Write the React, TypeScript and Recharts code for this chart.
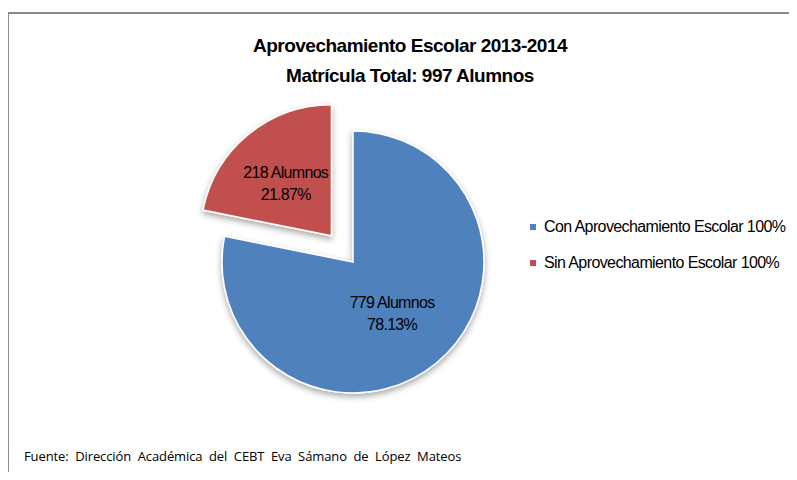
import { PieChart, Pie, Cell, Legend } from 'recharts';

const categories = ['Sin Aprovechamiento Escolar 100%', 'Con Aprovechamiento Escolar 100%'];
const alumnos = [218, 779];
const colors = ['#C0504D', '#4F81BD'];
const legendOrder = [1, 0];

const titleLines = ['Aprovechamiento Escolar 2013-2014', 'Matrícula Total: 997 Alumnos'];
const sourceNote = 'Fuente:  Dirección  Académica  del  CEBT  Eva  Sámano  de  López  Mateos';

const data = categories.map((name, i) => ({ name, value: alumnos[i] }));
const total = alumnos.reduce((a, b) => a + b, 0);

const CX = 353;
const CY = 262;
const R = 131;
const EXPLODE = 34;

// the red slice is pulled out along its own middle angle
const redMid = 90 + (360 * alumnos[0]) / total / 2;
const offX = EXPLODE * Math.cos((redMid * Math.PI) / 180);
const offY = -EXPLODE * Math.sin((redMid * Math.PI) / 180);

const chartFont = '"Liberation Sans", Arial, sans-serif';

function makeLabel(only: number, frac: number) {
    return (props: any) => {
        const { cx, cy, midAngle, outerRadius, index, value } = props;
        if (index !== only) return null;
        const rad = (midAngle * Math.PI) / 180;
        const x = cx + outerRadius * frac * Math.cos(rad);
        const y = cy - outerRadius * frac * Math.sin(rad);
        const pct = ((value / total) * 100).toFixed(2);
        return (
            <text
                x={x}
                y={y}
                textAnchor="middle"
                fill="#000"
                fontFamily={chartFont}
                fontSize={16}
                letterSpacing={-0.7}
            >
                <tspan x={x} dy={-2}>{`${value} Alumnos`}</tspan>
                <tspan x={x} dy={22}>{`${pct}%`}</tspan>
            </text>
        );
    };
}

function LegendBox() {
    return (
        <div style={{ fontFamily: chartFont, fontSize: 16, letterSpacing: -0.6, color: '#000' }}>
            {legendOrder.map((i) => (
                <div key={i} style={{ display: 'flex', alignItems: 'center', height: 36 }}>
                    <span style={{ width: 6, height: 6, background: colors[i], marginRight: 8, display: 'inline-block' }} />
                    <span>{categories[i]}</span>
                </div>
            ))}
        </div>
    );
}

export default function App() {
    return (
        <div style={{ position: 'relative', width: 797, height: 480, margin: -8, overflow: 'hidden', background: '#fff' }}>
            <svg width={0} height={0} style={{ position: 'absolute' }}>
                <defs>
                    <filter id="sliceShadow" x="-20%" y="-20%" width="140%" height="140%">
                        <feDropShadow dx={0} dy={3} stdDeviation={3} floodColor="#000" floodOpacity={0.35} />
                    </filter>
                </defs>
            </svg>
            <div
                style={{
                    position: 'absolute',
                    left: 7,
                    top: 12,
                    width: 820,
                    height: 500,
                    border: '2px solid #8a8a8a',
                    boxSizing: 'border-box',
                }}
            />
            <div
                style={{
                    position: 'absolute',
                    left: 210,
                    width: 400,
                    top: 31,
                    textAlign: 'center',
                    fontFamily: chartFont,
                    fontWeight: 'bold',
                    fontSize: 19,
                    letterSpacing: -0.5,
                    lineHeight: '30px',
                    color: '#000',
                }}
            >
                {titleLines.map((t) => (
                    <div key={t}>{t}</div>
                ))}
            </div>
            <div style={{ position: 'absolute', left: 0, top: 0 }}>
                <PieChart width={797} height={480} margin={{ top: 0, right: 0, bottom: 0, left: 0 }}>
                    <Pie
                        data={data}
                        dataKey="value"
                        nameKey="name"
                        cx={CX}
                        cy={CY}
                        outerRadius={R}
                        startAngle={90}
                        endAngle={450}
                        stroke="#fff"
                        strokeWidth={1.5}
                        label={makeLabel(1, 0.47)}
                        labelLine={false}
                        isAnimationActive={false}
                        style={{ filter: 'url(#sliceShadow)' }}
                    >
                        {data.map((d, i) => (
                            <Cell key={d.name} fill={i === 1 ? colors[i] : 'none'} stroke={i === 1 ? '#fff' : 'none'} />
                        ))}
                    </Pie>
                    <Pie
                        data={data}
                        dataKey="value"
                        nameKey="name"
                        cx={CX + offX}
                        cy={CY + offY}
                        outerRadius={R}
                        startAngle={90}
                        endAngle={450}
                        stroke="#fff"
                        strokeWidth={1.5}
                        label={makeLabel(0, 0.55)}
                        labelLine={false}
                        isAnimationActive={false}
                        style={{ filter: 'url(#sliceShadow)' }}
                    >
                        {data.map((d, i) => (
                            <Cell key={d.name} fill={i === 0 ? colors[i] : 'none'} stroke={i === 0 ? '#fff' : 'none'} />
                        ))}
                    </Pie>
                    <Legend
                        content={() => <LegendBox />}
                        wrapperStyle={{ position: 'absolute', left: 530, top: 209, width: 265 }}
                    />
                </PieChart>
            </div>
            <div
                style={{
                    position: 'absolute',
                    left: 24,
                    top: 447,
                    fontFamily: '"Open Sans", sans-serif',
                    fontSize: 13,
                    color: '#000',
                    whiteSpace: 'pre',
                    letterSpacing: -0.1,
                }}
            >
                {sourceNote}
            </div>
        </div>
    );
}
